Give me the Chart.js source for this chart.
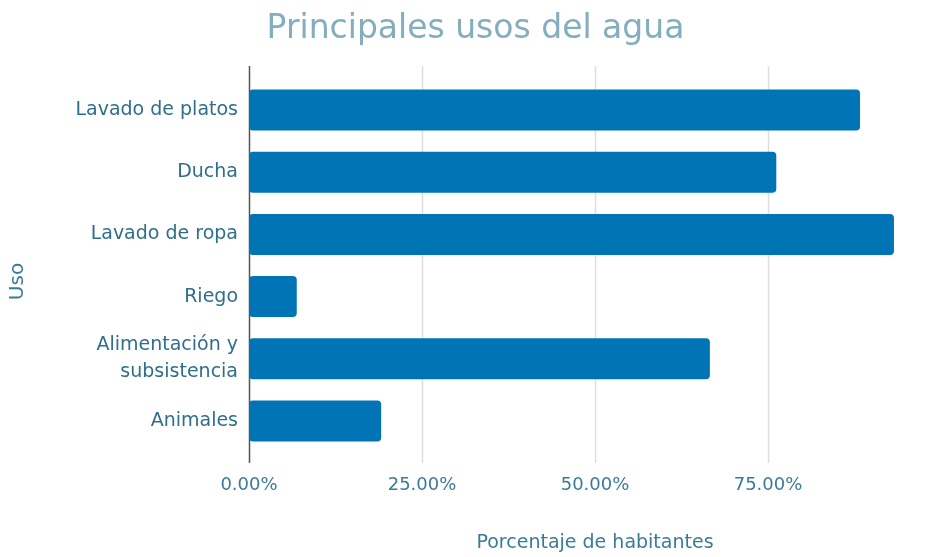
<!DOCTYPE html>
<html><head><meta charset="utf-8">
<script src="https://cdn.jsdelivr.net/npm/chart.js@4"></script>
<style>html,body{margin:0;padding:0;overflow:hidden;background:#fff}
#wrap{width:964px;height:557px;position:relative;overflow:hidden}
canvas{display:block}</style></head>
<body><div id="wrap"><canvas id="c" width="964" height="557"></canvas></div>
<script>
const categories = ['Lavado de platos', 'Ducha', 'Lavado de ropa', 'Riego', ['Alimentación y', 'subsistencia'], 'Animales'];
const values = [88.3, 76.2, 93.2, 6.9, 66.6, 19.1];
const xTicks = [0, 25, 50, 75, 100];
const titleText = 'Principales usos del agua';
const xTitle = 'Porcentaje de habitantes';
const yTitle = 'Uso';

const extGrid = {
  id: 'extGrid',
  beforeDatasetsDraw(chart) {
    const {ctx, chartArea: a, scales: {x}} = chart;
    ctx.save();
    xTicks.forEach(v => {
      const px = Math.round(x.getPixelForValue(v)) + 0.5;
      ctx.beginPath();
      ctx.strokeStyle = v === 0 ? '#555555' : '#dedede';
      ctx.lineWidth = 1.5;
      ctx.moveTo(px, a.top - 13);
      ctx.lineTo(px, a.bottom + 11);
      ctx.stroke();
    });
    ctx.restore();
  },
  afterDraw(chart) {
    const {ctx, chartArea: a} = chart;
    ctx.save();
    ctx.translate(18, (a.top + a.bottom) / 2 + 16);
    ctx.rotate(-Math.PI / 2);
    ctx.fillStyle = '#3a7c95';
    ctx.font = '20px "DejaVu Sans"';
    ctx.textAlign = 'center';
    ctx.textBaseline = 'middle';
    ctx.fillText(yTitle, 0, 0);
    ctx.restore();
  }
};

new Chart(document.getElementById('c'), {
  type: 'bar',
  data: {
    labels: categories,
    datasets: [{
      data: values,
      backgroundColor: '#0074b4',
      borderRadius: 4,
      borderSkipped: false,
      barPercentage: 0.66,
      categoryPercentage: 1
    }]
  },
  options: {
    indexAxis: 'y',
    responsive: false,
    maintainAspectRatio: false,
    animation: false,
    layout: {padding: {left: 0, right: 13, top: 0, bottom: 0}},
    plugins: {
      legend: {display: false},
      tooltip: {enabled: false},
      title: {
        display: true,
        text: titleText,
        color: '#84aebd',
        font: {family: '"DejaVu Sans"', size: 33, weight: 'normal', lineHeight: 1.2},
        padding: {top: 10, bottom: 29.4}
      }
    },
    scales: {
      x: {
        min: 0, max: 100,
        afterBuildTicks(s) { s.ticks = xTicks.map(v => ({value: v})); },
        afterFit(s) { s.height = 105; },
        grid: {display: false, drawTicks: false},
        border: {display: false},
        ticks: {
          padding: 23,
          color: '#3a7c95',
          font: {family: '"DejaVu Sans"', size: 18},
          callback: v => v >= 100 ? '' : v.toFixed(2) + '%'
        },
        title: {
          display: true,
          text: xTitle,
          color: '#3a7c95',
          font: {family: '"DejaVu Sans"', size: 19},
          padding: {top: 0, bottom: 3}
        }
      },
      y: {
        afterFit(s) { s.width = 249; },
        grid: {display: false, drawTicks: false},
        border: {display: false},
        ticks: {
          padding: 11,
          color: '#2f6f89',
          font: {family: '"DejaVu Sans"', size: 19, lineHeight: 1.4}
        }
      }
    }
  },
  plugins: [extGrid]
});
</script>
</body></html>
